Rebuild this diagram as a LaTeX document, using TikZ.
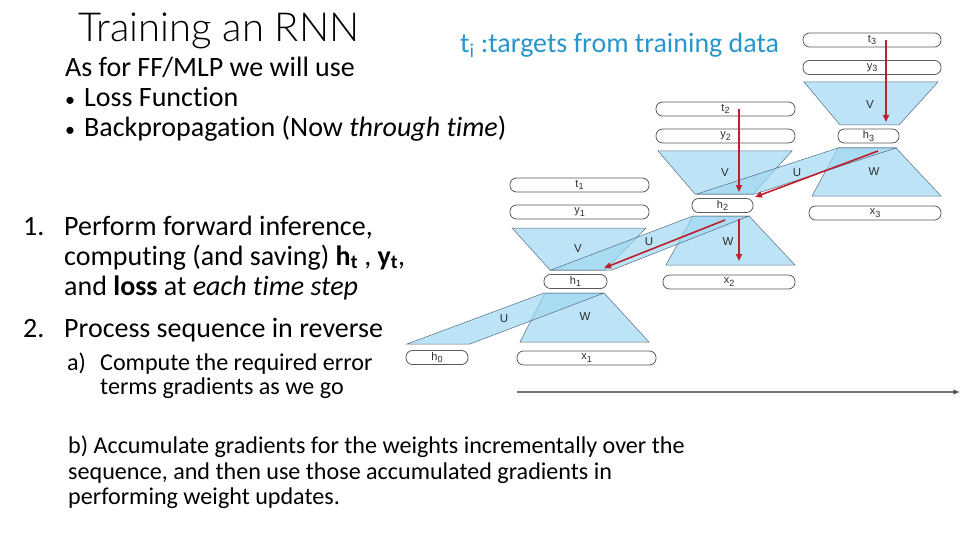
\documentclass[tikz,border=0pt]{standalone}
\usepackage{fontspec}
\setmainfont{Carlito}[Ligatures=NoCommon]
\newfontfamily\labfont{Liberation Sans}
\newfontfamily\titlefont{Lato Light}
\usetikzlibrary{arrows.meta}
\definecolor{tealblue}{RGB}{40,150,205}
\definecolor{trapfill}{RGB}{160,215,242}
\definecolor{trapline}{RGB}{70,95,115}
\definecolor{arrred}{RGB}{190,30,45}
\definecolor{labgray}{RGB}{45,45,45}
\newcommand{\lbsub}[2]{#1\raisebox{-0.4ex}{\fontsize{9}{9}\selectfont #2}}
\newcommand{\smbullet}{{\fontsize{20}{20}\selectfont\textbullet}}
\tikzset{
  pill/.style={draw=black!65, line width=0.8pt, fill=white, rounded corners=6.5pt,
    inner sep=0pt, font=\labfont\fontsize{11}{11}\selectfont, text=labgray},
  trap/.style={fill=trapfill, fill opacity=0.7, draw=trapline, draw opacity=0.9, line width=0.5pt},
  wlab/.style={font=\labfont\fontsize{11.5}{11.5}\selectfont, text=labgray, inner sep=0pt},
  redarr/.style={draw=arrred, line width=1.6pt, -{Triangle[length=7pt,width=6pt]}},
  txt/.style={anchor=base west, inner sep=0pt, font=\fontsize{28}{32}\selectfont},
  stxt/.style={anchor=base west, inner sep=0pt, font=\fontsize{24.1}{28}\selectfont}
}
\begin{document}
\begin{tikzpicture}[x=1pt,y=-1pt]
\useasboundingbox (0,0) rectangle (960,540);

% ---------- text ----------
\node[anchor=base west, inner sep=0pt, font=\titlefont\fontsize{40}{46}\selectfont] (title) at (78,42) {Training an RNN};
\node[txt, text=tealblue] (tgt) at (460,53) {t\textsubscript{i} :targets from training data};
\node[txt] (l1) at (65,77) {As for FF/MLP we will use};
\node[txt] (b1) at (65,107) {\smbullet};
\node[txt] (l2) at (84,107) {Loss Function};
\node[txt] (b2) at (65,137) {\smbullet};
\node[txt] (l3) at (84,137) {Backpropagation (Now \textit{through time})};

\node[txt] (n1) at (23,235) {1.};
\node[txt] (p1) at (64,235) {Perform forward inference,};
\node[txt] (p2) at (64,265) {computing (and saving) \textbf{h\textsubscript{t}} , \textbf{y\textsubscript{t}},};
\node[txt] (p3) at (64,295) {and \textbf{loss} at \textit{each time step}};
\node[txt] (n2) at (23,337) {2.};
\node[txt] (p4) at (64,337) {Process sequence in reverse};
\node[stxt] (na) at (67,370) {a)};
\node[stxt] (q1) at (100,370) {Compute the required error};
\node[stxt] (q2) at (100,394) {terms gradients as we go};
\node[stxt] (r1) at (68,453) {b) Accumulate gradients for the weights incrementally over the};
\node[stxt] (r2) at (68,479) {sequence, and then use those accumulated gradients in};
\node[stxt] (r3) at (68,504) {performing weight updates.};

% ---------- trapezoids and U bands ----------
\draw[trap] (804,82) -- (938,82) -- (899,125) -- (840,125) -- cycle;
\draw[trap] (838,148) -- (896,148) -- (941,196) -- (812,196) -- cycle;
\draw[trap] (658,151) -- (792,151) -- (753,194) -- (695,194) -- cycle;
\draw[trap] (693,216) -- (749,216) -- (795,265) -- (666,265) -- cycle;
\draw[trap] (512,228) -- (646,228) -- (605,270) -- (550,270) -- cycle;
\draw[trap] (545,293) -- (604,293) -- (649,342) -- (520,342) -- cycle;
\draw[trap] (407,344) -- (470,344) -- (604,293) -- (544,293) -- cycle;
\draw[trap] (551,270) -- (612,270) -- (749,216) -- (693,216) -- cycle;
\draw[trap] (697,194) -- (755,194) -- (896,148) -- (838,148) -- cycle;

\node[wlab] (V3) at (870,105) {V};
\node[wlab] (W3) at (874,172) {W};
\node[wlab] (V2) at (725,173) {V};
\node[wlab] (U2) at (797,173) {U};
\node[wlab] (W2) at (728,242) {W};
\node[wlab] (U1) at (649,242) {U};
\node[wlab] (V1) at (578,249) {V};
\node[wlab] (W1) at (585,317) {W};
\node[wlab] (U0) at (504,319) {U};

% ---------- boxes ----------
\node[pill, minimum width=138pt, minimum height=14pt] (t3) at (872,40) {\lbsub{t}{3}};
\node[pill, minimum width=138pt, minimum height=14pt] (y3) at (872,67.5) {\lbsub{y}{3}};
\node[pill, minimum width=61pt, minimum height=14pt] (h3) at (868.5,136) {\lbsub{h}{3}};
\node[pill, minimum width=132pt, minimum height=14pt] (x3) at (875,213) {\lbsub{x}{3}};
\node[pill, minimum width=139pt, minimum height=14pt] (t2) at (725.5,109) {\lbsub{t}{2}};
\node[pill, minimum width=139pt, minimum height=14pt] (y2) at (725.5,136) {\lbsub{y}{2}};
\node[pill, minimum width=61pt, minimum height=14pt] (h2) at (722.5,205.5) {\lbsub{h}{2}};
\node[pill, minimum width=132pt, minimum height=14pt] (x2) at (729,282) {\lbsub{x}{2}};
\node[pill, minimum width=139pt, minimum height=14pt] (t1) at (579.5,185) {\lbsub{t}{1}};
\node[pill, minimum width=139pt, minimum height=14pt] (y1) at (579.5,212) {\lbsub{y}{1}};
\node[pill, minimum width=63pt, minimum height=14pt] (h1) at (575.5,281.5) {\lbsub{h}{1}};
\node[pill, minimum width=139pt, minimum height=14pt] (x1) at (586.5,358) {\lbsub{x}{1}};
\node[pill, minimum width=62pt, minimum height=14pt] (h0) at (437,357.5) {\lbsub{h}{0}};

% ---------- red gradient arrows ----------
\coordinate (a1s) at (886,40);
\coordinate (a1e) at (886,122);
\coordinate (a2s) at (739,109);
\coordinate (a2e) at (739,192);
\coordinate (a3s) at (878,151);
\coordinate (a3e) at (755,197);
\coordinate (a4s) at (725,220);
\coordinate (a4e) at (604,268);
\coordinate (a5s) at (739,219);
\coordinate (a5e) at (739,261);
\draw[redarr] (a1s) -- (a1e);
\draw[redarr] (a2s) -- (a2e);
\draw[redarr] (a3s) -- (a3e);
\draw[redarr] (a4s) -- (a4e);
\draw[redarr] (a5s) -- (a5e);

% ---------- time axis ----------
\coordinate (ts) at (517,392);
\coordinate (te) at (960,392);
\draw[black!55, line width=1.2pt, -{Triangle[length=7pt,width=5pt,fill=black]}] (ts) -- (te);
\end{tikzpicture}
\end{document}
